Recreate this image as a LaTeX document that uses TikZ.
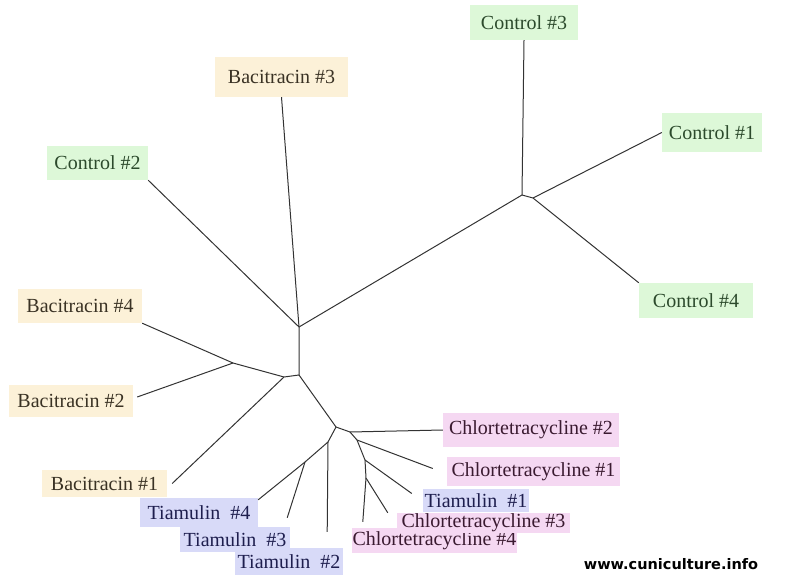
\documentclass[tikz,border=0pt]{standalone}
\usepackage{fontspec}
\setmainfont{Liberation Serif}
\newfontfamily\webfont{DejaVu Sans}
\definecolor{ctrlfill}{HTML}{DDF8D8}
\definecolor{ctrltext}{HTML}{2C4A2C}
\definecolor{bacfill}{HTML}{FCF1D8}
\definecolor{bactext}{HTML}{3A3224}
\definecolor{tiafill}{HTML}{D8DAF8}
\definecolor{tiatext}{HTML}{1E1E4E}
\definecolor{chlfill}{HTML}{F5D8F2}
\definecolor{chltext}{HTML}{3A1A30}
\definecolor{branchgray}{HTML}{333333}
\tikzset{
  lab/.style 2 args={inner sep=0pt, minimum width=#1pt, minimum height=#2pt,
    font=\fontsize{20}{21}\selectfont},
  ctrl/.style={fill=ctrlfill, text=ctrltext},
  bac/.style={fill=bacfill, text=bactext},
  tia/.style={fill=tiafill, text=tiatext},
  chl/.style={fill=chlfill, text=chltext},
  branch/.style={draw=branchgray, line width=1pt, line join=round}
}
\begin{document}
\begin{tikzpicture}[x=1pt,y=-1pt]
  \useasboundingbox (0,0) rectangle (792,575);
  % leaves
  \node[ctrl,lab={108}{35}] (c3) at (524,22.5) {Control \#3};
  \node[ctrl,lab={100}{39}] (c1) at (712,132.5) {Control \#1};
  \node[ctrl,lab={114}{35}] (c4) at (696,300.5) {Control \#4};
  \node[ctrl,lab={101}{34}] (c2) at (97.5,163) {Control \#2};
  \node[bac,lab={133}{40}] (b3) at (281.5,77) {Bacitracin \#3};
  \node[bac,lab={124}{34}] (b4) at (80,306) {Bacitracin \#4};
  \node[bac,lab={124}{32}] (b2) at (71,401) {Bacitracin \#2};
  \node[bac,lab={125}{27}] (b1) at (104.5,483.5) {Bacitracin \#1};
  \node[tia,lab={118}{29}] (t4) at (199,512.5) {Tiamulin\ \ \#4};
  \node[tia,lab={110}{25}] (t3) at (235,539.5) {Tiamulin\ \ \#3};
  \node[tia,lab={108}{27}] (t2) at (289,561.5) {Tiamulin\ \ \#2};
  \node[chl,lab={176}{34}] (ch2) at (531,430) {Chlortetracycline \#2};
  \node[chl,lab={173}{29}] (ch1) at (533.5,471.5) {Chlortetracycline \#1};
  \node[tia,lab={106}{23}] (t1) at (476,500.5) {Tiamulin\ \ \#1};
  \node[chl,lab={165}{25}] (ch4) at (434.5,540.5) {Chlortetracycline \#4};
  \node[chl,lab={173}{20}] (ch3) at (483.5,523) {Chlortetracycline \#3};
  \node[font=\webfont\bfseries\fontsize{14.5}{15}\selectfont, inner sep=0pt] (web) at (671,564) {www.cuniculture.info};
  % inner forks
  \coordinate (nc) at (522,195);
  \coordinate (nc2) at (533,198);
  \coordinate (na) at (299,327);
  \coordinate (nb) at (299,375);
  \coordinate (nd) at (284,377);
  \coordinate (nbac) at (233,363);
  \coordinate (ne) at (336,427);
  \coordinate (nk) at (328,442);
  \coordinate (nl) at (305,462);
  \coordinate (ng) at (350,432);
  \coordinate (nh) at (357,440);
  \coordinate (ni) at (365,460);
  \coordinate (nj) at (366,478);
  % branches
  \draw[branch] (c3.south) -- (nc) -- (na);
  \draw[branch] (nc) -- (nc2) -- (c1.west);
  \draw[branch] (nc2) -- (c4.north west);
  \draw[branch] (c2.south east) -- (na) -- (b3.south);
  \draw[branch] (na) -- (nb) -- (nd) -- (nbac) -- (b4.south east);
  \draw[branch] (nbac) -- ([xshift=4pt,yshift=4pt]b2.east);
  \draw[branch] (nd) -- ([xshift=5pt]b1.east);
  \draw[branch] (nb) -- (ne) -- (nk) -- ([xshift=-16pt,yshift=16pt]t2.north east);
  \draw[branch] (nk) -- (nl) -- ([yshift=-2pt]t4.north east);
  \draw[branch] (nl) -- ([xshift=-3pt,yshift=9pt]t3.north east);
  \draw[branch] (ne) -- (ng) -- (ch2.west);
  \draw[branch] (ng) -- (nh) -- ([xshift=-14pt,yshift=3pt]ch1.west);
  \draw[branch] (nh) -- (ni) -- ([xshift=-11pt,yshift=7pt]t1.west);
  \draw[branch] (ni) -- (nj) -- ([xshift=-9pt]ch3.north west);
  \draw[branch] (nj) -- ([xshift=11pt,yshift=6pt]ch4.north west);
\end{tikzpicture}
\end{document}
